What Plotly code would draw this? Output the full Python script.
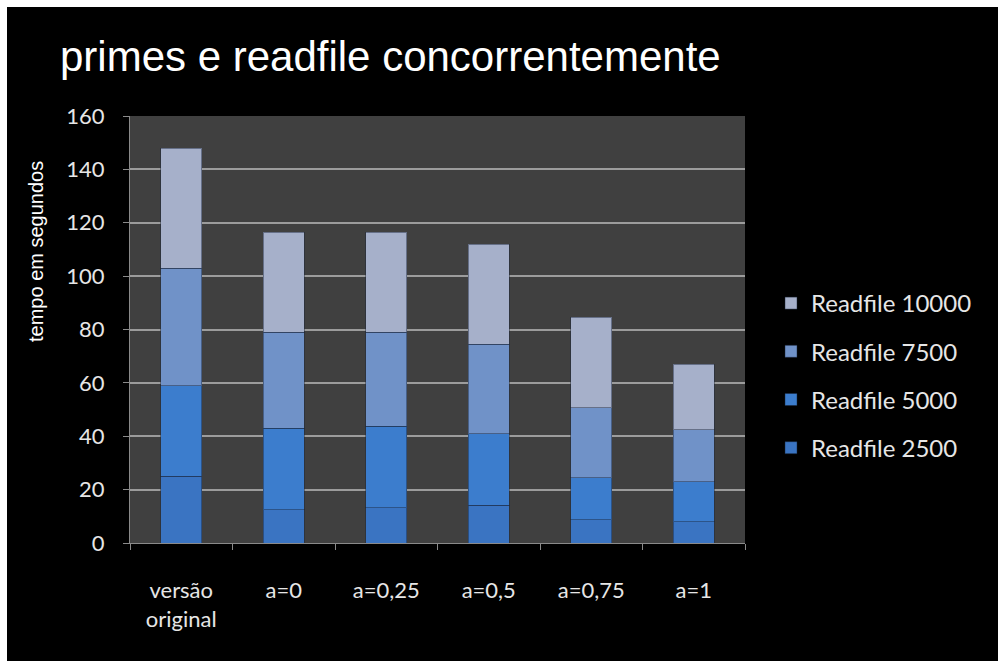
import plotly.graph_objects as go

# Categories and stacked series (seconds)
categories = ["versão<br>original", "a=0", "a=0,25", "a=0,5", "a=0,75", "a=1"]
readfile_2500 = [25, 12.5, 13.3, 14.2, 8.7, 8.0]
readfile_5000 = [34, 30.5, 30.4, 26.7, 15.8, 14.9]
readfile_7500 = [44, 36, 35.3, 33.6, 26.1, 19.6]
readfile_10000 = [45, 37.5, 37.4, 37.5, 33.9, 24.5]

series = [
    ("Readfile 2500", readfile_2500, "#3a74c2"),
    ("Readfile 5000", readfile_5000, "#3c7dcd"),
    ("Readfile 7500", readfile_7500, "#7092c8"),
    ("Readfile 10000", readfile_10000, "#a6b0ca"),
]

W, H = 998, 661
ML, MR, MT, MB = 130, 253, 116, 118
PW, PH = W - ML - MR, H - MT - MB

fig = go.Figure()
for rank, (name, vals, color) in enumerate(series):
    fig.add_trace(go.Bar(
        x=categories, y=vals, name=name, legendgroup=name,
        legendrank=1000 - rank,
        marker=dict(color=color, line=dict(color="rgba(25,35,55,0.45)", width=1)),
    ))

def px_x(p):
    return (p - ML) / PW

def px_y(p):
    return 1 - (p - MT) / PH

label_family = "Lato, Open Sans, sans-serif"

fig.update_layout(
    width=W, height=H,
    margin=dict(l=ML, r=MR, t=MT, b=MB),
    paper_bgcolor="#000000",
    plot_bgcolor="#404040",
    barmode="stack",
    bargap=0.6,
    title=dict(
        text="primes e readfile concorrentemente",
        font=dict(family="Liberation Sans, Arial, sans-serif", size=42, color="#ffffff"),
        xref="container", x=60 / W, xanchor="left",
        yref="container", y=1 - 56 / H, yanchor="middle",
    ),
    xaxis=dict(
        showline=True, linecolor="#8a8a8a", linewidth=1,
        ticks="outside", tickson="boundaries", ticklen=6, tickcolor="#8a8a8a",
        tickfont=dict(family=label_family, size=22, color="#e6e6e6"),
        ticklabelstandoff=28,
    ),
    yaxis=dict(
        range=[0, 160], dtick=20,
        showgrid=True, gridcolor="#9c9c9c", gridwidth=2,
        showline=True, linecolor="#8a8a8a", linewidth=1,
        ticks="outside", ticklen=6, tickcolor="#8a8a8a",
        tickfont=dict(family=label_family, size=22, color="#e6e6e6"),
        ticklabelstandoff=14,
        zeroline=False,
    ),
    legend=dict(
        x=px_x(771), y=px_y(281), xanchor="left", yanchor="top",
        traceorder="grouped", tracegroupgap=14,
        font=dict(family=label_family, size=24, color="#e6e6e6"),
        bgcolor="rgba(0,0,0,0)",
    ),
    annotations=[dict(
        text="tempo em segundos", textangle=-90,
        xref="paper", yref="paper", x=px_x(36), y=px_y(252),
        xanchor="center", yanchor="middle", showarrow=False,
        font=dict(family="Liberation Sans, Arial, sans-serif", size=20, color="#ffffff"),
    )],
    shapes=[
        # white frame strips along the top and left edges
        dict(type="rect", xref="paper", yref="paper", x0=px_x(0), x1=px_x(W),
             y0=px_y(7), y1=px_y(0), fillcolor="#ffffff", line=dict(width=0)),
        dict(type="rect", xref="paper", yref="paper", x0=px_x(0), x1=px_x(7),
             y0=px_y(H), y1=px_y(0), fillcolor="#ffffff", line=dict(width=0)),
    ],
)

fig.write_html("out.html")
